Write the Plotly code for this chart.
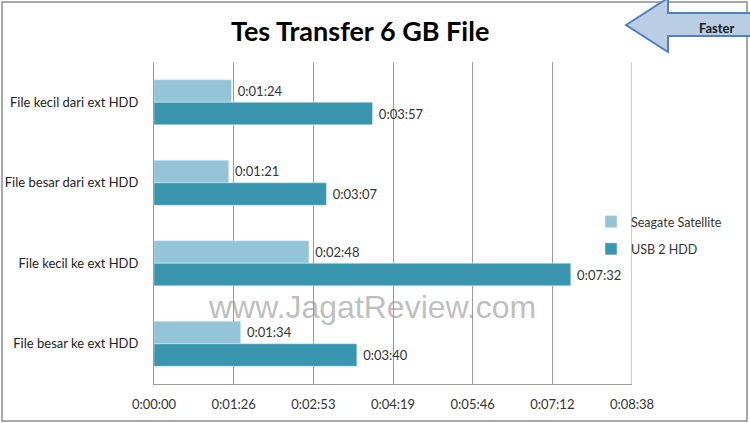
import plotly.graph_objects as go

categories = ["File kecil dari ext HDD", "File besar dari ext HDD",
              "File kecil ke ext HDD", "File besar ke ext HDD"]
seagate_sec = [84, 81, 168, 94]      # Seagate Satellite
usb2_sec = [237, 187, 452, 220]      # USB 2 HDD
tick_vals = [0, 86.4, 172.8, 259.2, 345.6, 432, 518.4]
tick_text = ["0:00:00", "0:01:26", "0:02:53", "0:04:19", "0:05:46", "0:07:12", "0:08:38"]


def fmt(s):
    return "\u00a0%d:%02d:%02d" % (s // 3600, (s % 3600) // 60, s % 60)


W, H = 750, 423
L, R, T, B = 154, 632, 62, 384


def px(x):
    return (x - L) / (R - L)


def py(y):
    return (B - y) / (B - T)


FONT = "Lato, 'Open Sans', sans-serif"

fig = go.Figure()
fig.add_trace(go.Bar(
    name="Seagate Satellite", y=categories, x=seagate_sec, orientation="h",
    legendgroup="a",
    marker=dict(color="#93C4D7"), text=[fmt(v) for v in seagate_sec],
    textposition="outside", textfont=dict(size=13, color="#333333", family=FONT),
    cliponaxis=False))
fig.add_trace(go.Bar(
    name="USB 2 HDD", y=categories, x=usb2_sec, orientation="h",
    legendgroup="b",
    marker=dict(color="#3A95AF"), text=[fmt(v) for v in usb2_sec],
    textposition="outside", textfont=dict(size=13, color="#333333", family=FONT),
    cliponaxis=False))

arrow = [(626, 25), (668, -2), (668, 13), (752, 13), (752, 36), (668, 36), (668, 52)]
path = "M " + " L ".join("%f,%f" % (px(x), py(y)) for x, y in arrow) + " Z"

fig.update_layout(
    width=W, height=H,
    margin=dict(l=L, r=W - R, t=T, b=H - B, autoexpand=False),
    paper_bgcolor="white", plot_bgcolor="white",
    barmode="group", bargap=0.44, bargroupgap=0,
    font=dict(family=FONT, size=13, color="#222222"),
    showlegend=True,
    legend=dict(x=px(591), y=py(207), xanchor="left", yanchor="top",
                font=dict(size=12.5, color="#333333", family=FONT),
                itemwidth=30, tracegroupgap=8, bgcolor="rgba(0,0,0,0)"),
    xaxis=dict(range=[0, 518.4], tickvals=tick_vals, ticktext=tick_text,
               showgrid=True, gridcolor="#9a9a9a", gridwidth=1,
               showline=True, linecolor="#9a9a9a", linewidth=1,
               ticks="", zeroline=False, tickfont=dict(size=13, color="#333333"),
               ticklabelstandoff=8, automargin=False, fixedrange=True),
    yaxis=dict(autorange="reversed", showgrid=False, showline=True,
               linecolor="#9a9a9a", linewidth=1, ticks="",
               ticklabelstandoff=12,
               tickfont=dict(size=13, color="#222222"),
               automargin=False, fixedrange=True),
    shapes=[
        dict(type="rect", xref="paper", yref="paper",
             x0=px(2), x1=px(747), y0=py(421), y1=py(2),
             line=dict(color="#8c8c8c", width=1.5), fillcolor="rgba(0,0,0,0)",
             layer="below"),
        dict(type="line", xref="x", yref="paper", x0=518.4, x1=518.4, y0=0, y1=1,
             line=dict(color="#9a9a9a", width=1)),
        dict(type="path", xref="paper", yref="paper", path=path,
             fillcolor="#B9CDE5", line=dict(color="#4F81BD", width=2)),
    ],
    annotations=[
        dict(text="<b>Tes Transfer 6 GB File</b>", xref="paper", yref="paper",
             x=px(360), y=py(30), xanchor="center", yanchor="middle", showarrow=False,
             font=dict(size=27, color="#000000", family=FONT)),
        dict(text="<b>Faster</b>", xref="paper", yref="paper",
             x=px(717), y=py(28), xanchor="center", yanchor="middle", showarrow=False,
             font=dict(size=13, color="#1a1a1a", family=FONT)),
        dict(text="www.JagatReview.com", xref="paper", yref="paper",
             x=px(372), y=py(307), xanchor="center", yanchor="middle", showarrow=False,
             font=dict(size=32, color="rgba(135,135,135,0.55)",
                       family="'Liberation Sans', Arial, sans-serif")),
    ],
)

fig.write_html("out.html", config={"displayModeBar": False},
               post_script="document.body.style.margin='0';document.body.style.padding='0';")
